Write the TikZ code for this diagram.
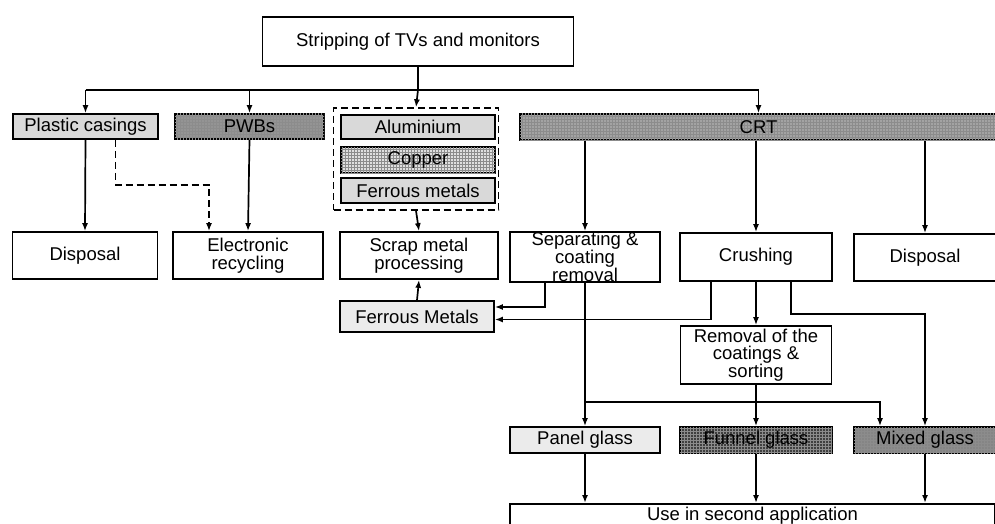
\documentclass[tikz,border=0pt]{standalone}
\usepackage{fontspec}
\setmainfont{Liberation Sans}
\usetikzlibrary{arrows.meta,patterns}

\definecolor{lightfill}{gray}{0.85}
\definecolor{paler}{gray}{0.92}
\definecolor{coppergrid}{gray}{0.88}
\definecolor{midgrid}{gray}{0.64}
\definecolor{darkgrid}{gray}{0.58}
\definecolor{mixgrid}{gray}{0.52}
\definecolor{deepgrid}{gray}{0.25}

\begin{document}
\begin{tikzpicture}[x=1pt,y=-1pt,
  every node/.style={font=\fontsize{18.5}{17.5}\selectfont},
  box/.style={draw, line width=1.7pt, inner sep=0pt, align=center},
  light/.style={box, fill=lightfill},
  gridded/.style={box, fill=#1, postaction={pattern=grid, pattern color=black!45}},
  arr/.style={line width=1.7pt, -{Latex[length=8pt,width=6pt]}},
  ln/.style={line width=1.7pt},
  dashedarr/.style={arr, dashed, dash pattern=on 7pt off 4pt},
]
\useasboundingbox (0,0) rectangle (995,524);

% top level
\node[box, minimum width=311, minimum height=49] (top) at (418,41.5) {Stripping of TVs and monitors};

% second row
\node[light, minimum width=145, minimum height=25] (plastic) at (85.5,126.5) {Plastic casings};
\node[gridded=darkgrid, minimum width=149, minimum height=25] (pwb) at (249.5,126.5) {PWBs};
\node[draw, line width=1.4pt, dashed, dash pattern=on 7pt off 4pt, minimum width=165, minimum height=102, inner sep=0pt] (grp) at (416,159) {};
\node[light, minimum width=154, minimum height=24] (alu) at (418,127) {Aluminium};
\node[gridded=coppergrid, minimum width=154, minimum height=26] (cu) at (418,160) {Copper};
\node[light, minimum width=154, minimum height=25] (fe) at (418,190.5) {Ferrous metals};
\node[gridded=midgrid, minimum width=477, minimum height=26] (crt) at (758.5,127) {CRT};

% third row
\node[box, minimum width=145, minimum height=47] (disp1) at (85,255.5) {Disposal};
\node[box, minimum width=150, minimum height=47] (elec) at (248,255.5) {Electronic\\recycling};
\node[box, minimum width=158, minimum height=47] (scrap) at (419,255.5) {Scrap metal\\processing};
\node[box, minimum width=150, minimum height=48, font=\fontsize{18.5}{15.5}\selectfont] (sep) at (585,257) {Separating \&\\coating\\removal};
\node[box, minimum width=152, minimum height=48] (crush) at (756,257) {Crushing};
\node[box, minimum width=142, minimum height=47] (disp2) at (925,257.5) {Disposal};

% recovered ferrous metals and sorting
\node[light, fill=paler, minimum width=154, minimum height=31] (fe2) at (417,316.5) {Ferrous Metals};
\node[box, minimum width=151, minimum height=58] (removal) at (756,355) {Removal of the\\coatings \&\\sorting};

% glass fractions
\node[light, fill=paler, minimum width=150, minimum height=26] (panel) at (585,440) {Panel glass};
\node[gridded=deepgrid, minimum width=152, minimum height=26] (funnel) at (756,440) {Funnel glass};
\node[gridded=mixgrid, minimum width=142, minimum height=26] (mixed) at (925,440) {Mixed glass};

% final use
\node[box, anchor=north, minimum width=485, inner ysep=4pt, text height=13, text depth=10] (use) at (752.5,503) {Use in second application};

% distribution from the stripping step
\coordinate (hub) at (418,90);
\draw[ln] (top.south) -- (hub);
\draw[ln] (plastic.north |- hub) -- (crt.north |- hub);
\draw[arr] (plastic.north |- hub) -- (plastic.north);
\draw[arr] (pwb.north |- hub) -- (pwb.north);
\draw[arr] (hub) -- (grp.north);
\draw[arr] (crt.north |- hub) -- (crt.north);

% plastics and boards
\draw[arr] (plastic.south) -- (disp1.north);
\draw[dashedarr] ([xshift=30]plastic.south) -- ++(0,45) -| ([xshift=-39]elec.north);
\draw[arr] (pwb.south) -- (elec.north);

% metals
\draw[arr] (grp.south) -- (scrap.north);
\draw[arr] (fe2.north) -- (scrap.south);

% CRT branches
\draw[arr] (crt.south -| sep.north) -- (sep.north);
\draw[arr] (crt.south -| crush.north) -- (crush.north);
\draw[arr] (crt.south -| disp2.north) -- (disp2.north);

% ferrous metals recovered from the CRT
\draw[arr] ([xshift=-40]sep.south) |- ([yshift=9.5]fe2.east);
\draw[arr] ([xshift=-45]crush.south) |- ([yshift=-3]fe2.east);

% crushing route
\draw[arr] (crush.south) -- (removal.north);
\draw[arr] ([xshift=35]crush.south) -- ++(0,32) -| (mixed.north);

% separating route
\draw[arr] (sep.south) -- (panel.north);
\coordinate (split) at (585,402);
\draw[arr] (split) -| ([xshift=-45]mixed.north);
\draw[arr] (removal.south) -- (funnel.north);

% glass to second application
\draw[arr] (panel.south) -- (panel.south |- use.north);
\draw[arr] (funnel.south) -- (funnel.south |- use.north);
\draw[arr] (mixed.south) -- (mixed.south |- use.north);
\end{tikzpicture}
\end{document}
